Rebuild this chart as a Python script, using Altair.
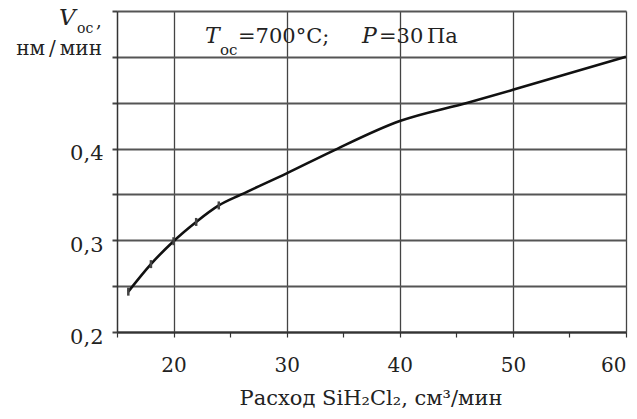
import altair as alt
import pandas as pd

flow = [16, 18, 20, 22, 24, 26, 30, 34, 40, 46, 50, 60]
rate = [0.244, 0.274, 0.299, 0.320, 0.338, 0.350, 0.373, 0.397, 0.430, 0.450, 0.464, 0.500]
marker_flow = [16, 18, 20, 22, 24]
marker_rate = [0.244, 0.274, 0.299, 0.320, 0.338]
x_ticks = [15, 20, 25, 30, 35, 40, 45, 50, 55, 60]
y_ticks = [0.2, 0.25, 0.3, 0.35, 0.4, 0.45, 0.5, 0.55]

FONT = "DejaVu Serif"
W, H = 509, 321

df = pd.DataFrame({"x": flow, "y": rate})
dm = pd.DataFrame({"x": marker_flow, "y": marker_rate})

xscale = alt.Scale(domain=[15, 60], nice=False, zero=False)
yscale = alt.Scale(domain=[0.2, 0.55], nice=False, zero=False)

xaxis = alt.Axis(
    values=x_ticks, title=None,
    labelExpr="datum.value % 10 === 0 ? datum.label : ''",
    labelFont=FONT, labelFontSize=20, labelColor="#222", labelPadding=18,
    tickSize=5, tickColor="#333", tickWidth=1.2,
    domainColor="#333", domainWidth=2,
    grid=True,
    gridColor={"condition": {"test": "datum.value % 10 === 0 && datum.value > 15", "value": "#444"}, "value": "transparent"},
    gridWidth=1.3,
)
yaxis = alt.Axis(
    values=y_ticks, title=None,
    labelExpr="abs(datum.value-0.2)<1e-6 ? '0,2' : abs(datum.value-0.3)<1e-6 ? '0,3' : abs(datum.value-0.4)<1e-6 ? '0,4' : ''",
    labelFont=FONT, labelFontSize=21, labelColor="#222", labelPadding=9,
    labelBaseline="alphabetic", labelOffset=11,
    tickSize=5, tickColor="#444", tickWidth=2,
    domainColor="#333", domainWidth=1.5,
    grid=True, gridColor="#555", gridWidth=2,
)

line = alt.Chart(df).mark_line(color="#111", strokeWidth=2.6, interpolate="monotone").encode(
    x=alt.X("x:Q", scale=xscale, axis=xaxis),
    y=alt.Y("y:Q", scale=yscale, axis=yaxis),
)
markers = alt.Chart(dm).mark_tick(
    orient="vertical", size=8, thickness=2.5, color="#444", opacity=1
).encode(x=alt.X("x:Q", scale=xscale), y=alt.Y("y:Q", scale=yscale))

def txt(s, x, y, size=20, style="normal", align="left"):
    return alt.Chart(pd.DataFrame({"t": [s]})).mark_text(
        font=FONT, fontSize=size, fontStyle=style, align=align, baseline="alphabetic", color="#222"
    ).encode(text="t:N", x=alt.value(x), y=alt.value(y))

texts = [
    # y-axis title
    txt("V", -58, 14, size=23, style="italic"),
    txt("ос", -40, 22, size=14),
    txt(",", -21, 16, size=18),
    txt("нм\u2009/\u2009мин", -15, 44, size=20, align="right"),
    # annotation
    txt("T", 88, 32, size=22, style="italic"),
    txt("ос", 103, 44, size=15),
    txt("=700°C;", 121, 32, size=21),
    txt("P", 245, 32, size=22, style="italic"),
    txt("=30", 262, 32, size=21),
    txt("Па", 310, 32, size=21),
    # x-axis title
    txt("Расход SiH₂Cl₂,  см³/мин", 254, 394, size=21, align="center"),
]

chart = alt.layer(line, markers, *texts).properties(
    width=W, height=H,
    autosize=alt.AutoSizeParams(type="none"),
    padding={"left": 117, "top": 11, "right": 11, "bottom": 87},
).configure_view(stroke=None).configure(background="white")

chart.save("out.html", embed_options={"renderer": "svg", "actions": False})
